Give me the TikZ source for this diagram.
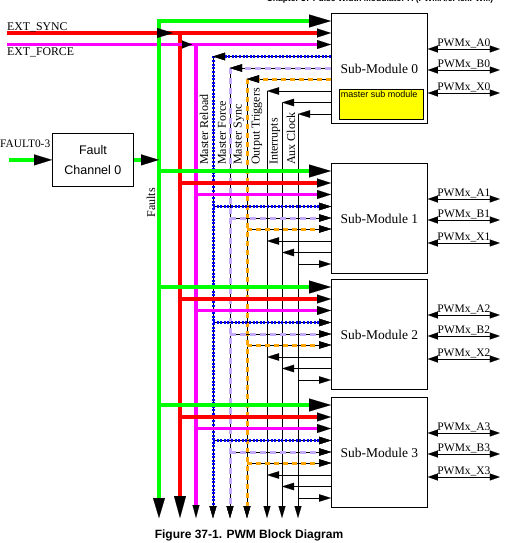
\documentclass[tikz,border=0pt]{standalone}
\usepackage{fontspec}
\setmainfont{Liberation Serif}
\setsansfont{Liberation Sans}
\usetikzlibrary{arrows.meta,calc}
\definecolor{cgr}{RGB}{0,255,0}
\definecolor{crd}{RGB}{255,0,0}
\definecolor{cmg}{RGB}{255,0,255}
\definecolor{cbl}{RGB}{0,0,255}
\definecolor{clv}{RGB}{195,170,250}
\definecolor{cog}{RGB}{255,165,0}
\definecolor{cyl}{RGB}{255,255,0}
\tikzset{
  tipL/.tip={Triangle[length=22pt,width=13pt,color=black,line width=0.1pt]},
  tipM/.tip={Triangle[length=14pt,width=9pt,color=black,line width=0.1pt]},
  tipS/.tip={Triangle[length=12pt,width=7.5pt,color=black,line width=0.1pt]},
  tipF/.tip={Triangle[length=18pt,width=11pt,color=black,line width=0.1pt]},
  tipP/.tip={Triangle[length=10pt,width=7pt,color=black,line width=0.1pt]},
  tipGB/.tip={Triangle[length=20pt,width=12pt,color=black,line width=0.1pt]},
  tipRB/.tip={Triangle[length=22pt,width=12pt,color=black,line width=0.1pt]},
  tipMB/.tip={Triangle[length=13pt,width=7pt,color=black,line width=0.1pt]},
  tipB/.tip={Triangle[length=12pt,width=7pt,color=black,line width=0.1pt]},
  greenln/.style={draw=cgr, line width=4pt},
  redln/.style={draw=crd, line width=3.5pt},
  magln/.style={draw=cmg, line width=3.5pt},
  blueln/.style={draw=cbl, line width=3pt, dash pattern=on 2pt off 1.6pt,
    preaction={draw=black, line width=0.8pt, solid}},
  lavln/.style={draw=clv, line width=3pt, dash pattern=on 6pt off 4pt,
    preaction={draw=black, line width=0.8pt, solid}},
  orgln/.style={draw=cog, line width=3pt, dash pattern=on 5pt off 4pt,
    preaction={draw=black, line width=0.8pt, solid}},
  blkln/.style={draw=black, line width=0.8pt},
  smbox/.style={draw, line width=0.8pt, fill=white, minimum width=96pt, minimum height=110pt,
    inner sep=0pt, anchor=north west, font=\fontsize{13.5}{15}\selectfont},
  vlab/.style={rotate=90, anchor=west, inner sep=0pt, font=\fontsize{12}{13}\selectfont},
  sertext/.style={inner sep=0pt, font=\fontsize{11.8}{13}\selectfont},
  pwmlab/.style={midway, above, inner sep=0.6pt, font=\fontsize{11.5}{12}\selectfont}
}
\begin{document}
\begin{tikzpicture}[x=1pt,y=-1pt]
\useasboundingbox (0,0) rectangle (514,543);

% sub-modules and fault channel
\node[smbox] (sm0) at (331,13) {Sub-Module 0};
\node[smbox] (sm1) at (331,163) {Sub-Module 1};
\node[smbox] (sm2) at (331,279) {Sub-Module 2};
\node[smbox] (sm3) at (331,397) {Sub-Module 3};
\node[draw, fill=cyl, line width=0.8pt, anchor=north west, minimum width=84pt, minimum height=30pt, inner sep=0pt] (msm) at (339,89) {};
\node[anchor=north west, inner sep=1.6pt, font=\sffamily\fontsize{9}{10}\selectfont] (msmt) at (msm.north west) {master sub module};
\node[draw, line width=0.8pt, anchor=north west, minimum width=81pt, minimum height=53pt, inner sep=0pt,
  align=center, font=\sffamily\fontsize{12.5}{20}\selectfont] (fc) at (52,133) {Fault\\Channel 0};

% bus positions
\coordinate (xe) at (7,0);
\coordinate (xg) at (159,0);
\coordinate (xr) at (180,0);
\coordinate (xm) at (196,0);
\coordinate (xb) at (213,0);
\coordinate (xl) at (230,0);
\coordinate (xo) at (247,0);
\coordinate (xt) at (267,0);
\coordinate (xi) at (282,0);
\coordinate (xa) at (298,0);
\coordinate (bot) at (0,518);

\foreach \s in {0,1,2,3}{
  \foreach \ln/\lo in {g/8,r/20,m/31.5,b/43.5,l/55,o/66,t/78,i/89.5,a/101}{
    \coordinate (\ln\s) at ([yshift=-\lo pt]sm\s.north west);
  }
  \foreach \pn/\po in {A/36,B/57,X/80}{
    \coordinate (p\pn\s) at ([yshift=-\po pt]sm\s.north east);
    \coordinate (q\pn\s) at ([xshift=72pt]p\pn\s);
    \draw[blkln, {tipP}-{tipP}] (p\pn\s) -- (q\pn\s) node[pwmlab] {PWMx\_\pn\s};
  }
}

% vertical buses
\draw[blkln, -{tipB}] (xt|-t0) -- (xt|-bot);
\draw[blkln, -{tipB}] (xi|-i0) -- (xi|-bot);
\draw[blkln, -{tipB}] (xa|-a0) -- (xa|-bot);
\draw[orgln, -{tipB}] (xo|-o0) -- (xo|-bot);
\draw[lavln, -{tipB}] (xl|-l0) -- (xl|-bot);
\draw[blueln, -{tipB}] (xb|-b0) -- (xb|-bot);
\draw[magln, -{tipMB}] (xm|-m0) -- (xm|-bot);
\draw[redln, -{tipRB}] (xr|-r0) -- (xr|-bot);

% sub-module 0 outputs to the buses
\draw[blueln, -{tipS}] (b0) -- (xb|-b0);
\draw[lavln, -{tipS}] (l0) -- (xl|-l0);
\draw[orgln, -{tipS}] (o0) -- (xo|-o0);
\draw[blkln, -{tipS}] (t0) -- (xt|-t0);
\draw[blkln, -{tipS}] (i0) -- (xi|-i0);
\draw[blkln, -{tipS}] (a0) -- (xa|-a0);

% external inputs
\draw[redln, -{tipM}] (xe|-r0) -- (r0);
\draw[magln, -{tipM}] (xe|-m0) -- (m0);
\draw[greenln, {tipGB}-{tipL}] (xg|-bot) -- (xg|-g0) -- (g0);
\draw[black, line width=0.1pt, -{Triangle[length=16pt,width=10pt,line width=0.1pt]}]
  ($(xg|-r0)+(-2,0)$) -- ($(xg|-r0)+(14,0)$);
\draw[black, line width=0.1pt, -{Triangle[length=10pt,width=8pt,line width=0.1pt]}]
  ($(xr|-m0)+(2,0)$) -- ($(xr|-m0)+(12,0)$);

% fault channel
\coordinate (fin) at ([xshift=-43pt]fc.west);
\draw[greenln, -{tipF}] (fin) -- (fc.west);
\draw[greenln, -{tipF}] (fc.east) -- (xg|-fc.east);

% inputs to sub-modules 1..3
\foreach \s in {1,2,3}{
  \draw[greenln, -{tipL}] (xg|-g\s) -- (g\s);
  \draw[redln, -{tipM}] (xr|-r\s) -- (r\s);
  \draw[magln, -{tipM}] (xm|-m\s) -- (m\s);
  \draw[blueln, -{tipS}] (xb|-b\s) -- (b\s);
  \draw[lavln, -{tipS}] (xl|-l\s) -- (l\s);
  \draw[orgln, -{tipS}] (xo|-o\s) -- (o\s);
  \draw[blkln, -{tipS}] (t\s) -- (xt|-t\s);
  \draw[blkln, -{tipS}] (i\s) -- (xi|-i\s);
  \draw[blkln, -{tipS}] (xa|-a\s) -- (a\s);
}

% labels
\node[sertext, anchor=base west] (lsync) at (7,30.5) {EXT\_SYNC};
\node[sertext, anchor=base west] (lforce) at (7,56) {EXT\_FORCE};
\node[inner sep=0pt, anchor=base west, font=\fontsize{11.4}{12}\selectfont] (lfault) at (0,147) {FAULT0-3};
\node[vlab, anchor=center] (lfaults) at (151,203) {Faults};
\node[vlab] (lmr) at (204,165) {Master Reload};
\node[vlab] (lmf) at (222,165) {Master Force};
\node[vlab] (lms) at (239,165) {Master Sync};
\node[vlab] (lot) at (257,165) {Output Triggers};
\node[vlab] (lint) at (275,165) {Interrupts};
\node[vlab] (lac) at (291,165) {Aux Clock};

\node[anchor=base, inner sep=0pt, font=\sffamily\bfseries\fontsize{12}{14}\selectfont] (cap) at (249,538) {Figure 37-1. PWM Block Diagram};
\node[anchor=base, inner sep=0pt, font=\sffamily\bfseries\fontsize{8.5}{10}\selectfont] (hdr) at (380,2) {Chapter 37 Pulse Width Modulator A (PWMA/eFlexPWM)};
\end{tikzpicture}
\end{document}
